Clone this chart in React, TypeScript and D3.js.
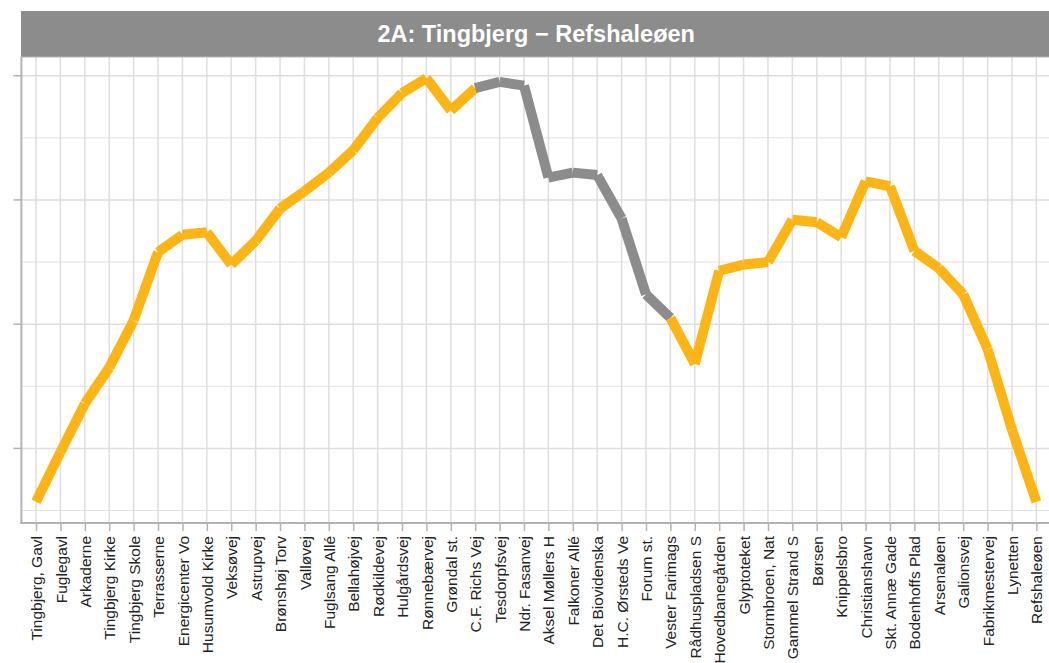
import * as d3 from "d3";
import { useRef, useEffect } from "react";

const stops = [
  "Tingbjerg, Gavl", "Fuglegavl", "Arkaderne", "Tingbjerg Kirke", "Tingbjerg Skole",
  "Terrasserne", "Energicenter Vo", "Husumvold Kirke", "Veksøvej", "Astrupvej",
  "Brønshøj Torv", "Valløvej", "Fuglsang Allé", "Bellahøjvej", "Rødkildevej",
  "Hulgårdsvej", "Rønnebærvej", "Grøndal st.", "C.F. Richs Vej", "Tesdorpfsvej",
  "Ndr. Fasanvej", "Aksel Møllers H", "Falkoner Allé", "Det Biovidenska", "H.C. Ørsteds Ve",
  "Forum st.", "Vester Farimags", "Rådhuspladsen S", "Hovedbanegården", "Glyptoteket",
  "Stormbroen, Nat", "Gammel Strand S", "Børsen", "Knippelsbro", "Christianshavn",
  "Skt. Annæ Gade", "Bodenhoffs Plad", "Arsenaløen", "Galionsvej", "Fabrikmestervej",
  "Lynetten", "Refshaleøen"
];

const level = [
  5.7, 9.7, 13.6, 16.5, 20.3, 25.8, 27.2, 27.4, 24.8, 26.7,
  29.3, 30.7, 32.2, 34.0, 36.6, 38.6, 39.8, 37.2, 39.0, 39.5,
  39.2, 31.8, 32.2, 32.0, 28.5, 22.4, 20.5, 16.8, 24.3, 24.8,
  25.0, 28.4, 28.2, 27.0, 31.5, 31.1, 25.9, 24.5, 22.4, 18.0,
  11.5, 5.7
];

// segment colour follows the stop where it starts
const tunnel = [
  0, 0, 0, 0, 0, 0, 0, 0, 0, 0,
  0, 0, 0, 0, 0, 0, 0, 0, 1, 1,
  1, 1, 1, 1, 1, 1, 0, 0, 0, 0,
  0, 0, 0, 0, 0, 0, 0, 0, 0, 0,
  0, 0
];

const majorTicks = [10, 20, 30, 40];
const minorTicks = [5, 15, 25, 35];

const title = "2A: Tingbjerg \u2212 Refshaleøen";

export default function App() {
  const width = 1049;
  const height = 663;
  const left = 21.4;
  const right = 1051;
  const top = 57;
  const bottom = 523;

  const x = d3.scalePoint(stops, [left, right]).padding(0.6);
  const [lo, hi] = d3.extent(level) as [number, number];
  const pad = (hi - lo) * 0.05;
  const y = d3.scaleLinear([lo - pad, hi + pad], [bottom, top]);

  const gx = useRef<SVGGElement>(null);

  useEffect(() => {
    const axis = d3.axisBottom(x).tickSize(8).tickPadding(6);
    const g = d3.select(gx.current!);
    g.call(axis as any);
    g.select(".domain").remove();
    g.attr("font-size", null).attr("font-family", null);
    g.selectAll(".tick line").attr("stroke", "#b3b3b3").attr("stroke-width", 1.5);
    g.selectAll(".tick text")
      .attr("transform", "rotate(-90)")
      .attr("text-anchor", "end")
      .attr("x", -13)
      .attr("y", 0)
      .attr("dy", "0.36em")
      .attr("fill", "#222")
      .style("font-size", "15.5px")
      .style("font-family", "Liberation Sans, Arial, sans-serif");
  }, []);

  const segs = d3.range(stops.length - 1);

  return (
    <svg width={width} height={height} style={{ position: "absolute", left: 0, top: 0 }}
      fontFamily="Liberation Sans, Arial, sans-serif">
      <rect width={width} height={height} fill="white" />
      {minorTicks.map((t) => (
        <line key={"m" + t} x1={left} x2={right} y1={y(t)} y2={y(t)} stroke="#e3e3e3" strokeWidth={1} />
      ))}
      {majorTicks.map((t) => (
        <line key={"M" + t} x1={left} x2={right} y1={y(t)} y2={y(t)} stroke="#dedede" strokeWidth={1.5} />
      ))}
      {stops.map((s) => (
        <line key={s} x1={x(s)} x2={x(s)} y1={top} y2={bottom} stroke="#dedede" strokeWidth={1.5} />
      ))}
      {majorTicks.map((t) => (
        <line key={"t" + t} x1={left - 8} x2={left} y1={y(t)} y2={y(t)} stroke="#b3b3b3" strokeWidth={1.5} />
      ))}
      <line x1={left} x2={left} y1={top} y2={bottom + 1} stroke="#b3b3b3" strokeWidth={2} />
      <line x1={left - 1} x2={right} y1={bottom} y2={bottom} stroke="#b3b3b3" strokeWidth={2} />
      <g ref={gx} transform={`translate(0,${bottom})`} />
      {segs.map((i) => (
        <line
          key={"s" + i}
          x1={x(stops[i])}
          y1={y(level[i])}
          x2={x(stops[i + 1])}
          y2={y(level[i + 1])}
          stroke={tunnel[i] ? "#8c8c8c" : "#fdb515"}
          strokeWidth={10}
          strokeLinecap="butt"
        />
      ))}
      <rect x={left - 0.4} y={11} width={right - left + 1} height={top - 11} fill="#8c8c8c" />
      <line x1={left} x2={right} y1={top} y2={top} stroke="#b8b8b8" strokeWidth={1} />
      <text x={(left + right) / 2} y={41.5} textAnchor="middle" fill="white" fontWeight="bold" fontSize={23.5}>
        {title}
      </text>
    </svg>
  );
}
